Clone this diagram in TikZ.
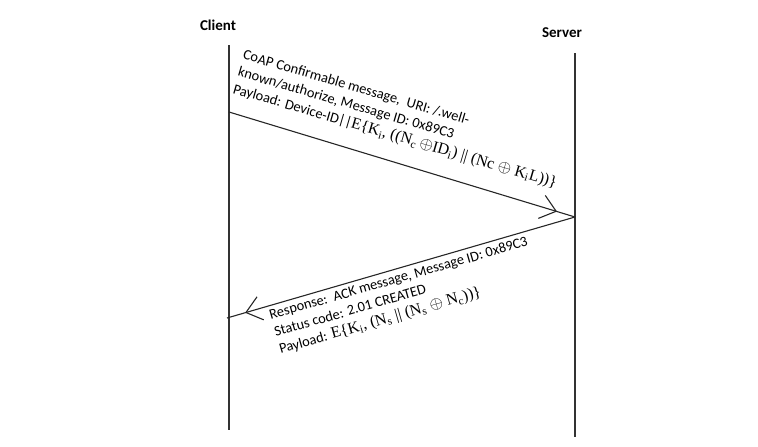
\documentclass[tikz,border=0pt]{standalone}
\usepackage{fontspec}
\setmainfont{Carlito}
\newfontfamily\timesfont{Liberation Serif}
\usetikzlibrary{arrows.meta}
\usetikzlibrary{decorations.markings}

\begin{document}
\begin{tikzpicture}[x=1pt,y=-1pt,
		actor/.style={font=\bfseries\fontsize{15}{17}\selectfont, inner sep=0pt},
		lifeline/.style={draw=black!80, line width=1.4pt},
		message/.style={draw=black!85, line width=1.1pt, postaction={decorate},
			decoration={markings, mark=at position 0.948 with {\arrow{Straight Barb[length=15pt,width=24pt,line width=1.1pt]}}}},
		msgtext/.style={font=\fontsize{14.4}{17.8}\selectfont, align=left, inner sep=0pt, anchor=north west},
	]
	\useasboundingbox (0,0) rectangle (758,447);
	% Draw actors and their lifelines
	\node (client) [actor] at (218,25) {Client};
	\node (server) [actor] at (562,33) {Server};
	\coordinate (clienttop) at (229,45);
	\coordinate (clientbot) at (229,430);
	\coordinate (servertop) at (575,53);
	\coordinate (serverbot) at (575,437);
	\draw[lifeline] (clienttop) -- (clientbot);
	\draw[lifeline] (servertop) -- (serverbot);
	% Draw message end points
	\coordinate (reqstart) at (229,112);
	\coordinate (reqend) at (575,217);
	\coordinate (ackend) at (227,318);
	% Draw messages
	\draw[message] (reqstart) -- (reqend);
	\draw[message] (reqend) -- (ackend);
	% Draw message texts
	\node (request) [msgtext,rotate=-16.3] at (245,49) {CoAP Confirmable message,\ \ URI: /.well-\\
		known/authorize, Message ID: 0x89C3\\
		Payload: Device-ID||{\timesfont\fontsize{16}{17.8}\selectfont E\{K\textsubscript{i}, ((N\textsubscript{c}\,$\oplus$ID\textsubscript{i}) || (Nc $\oplus$ K\textsubscript{i}L))\}}};
	\node (ack) [msgtext,rotate=16] at (268,310) {Response:\ \ ACK message, Message ID: 0x89C3\\
		Status code: 2.01 CREATED\\
		Payload: {\timesfont\fontsize{16}{17.8}\selectfont E\{K\textsubscript{i}, (N\textsubscript{s} || (N\textsubscript{s} $\oplus$ N\textsubscript{c}))\}}};
\end{tikzpicture}
\end{document}
